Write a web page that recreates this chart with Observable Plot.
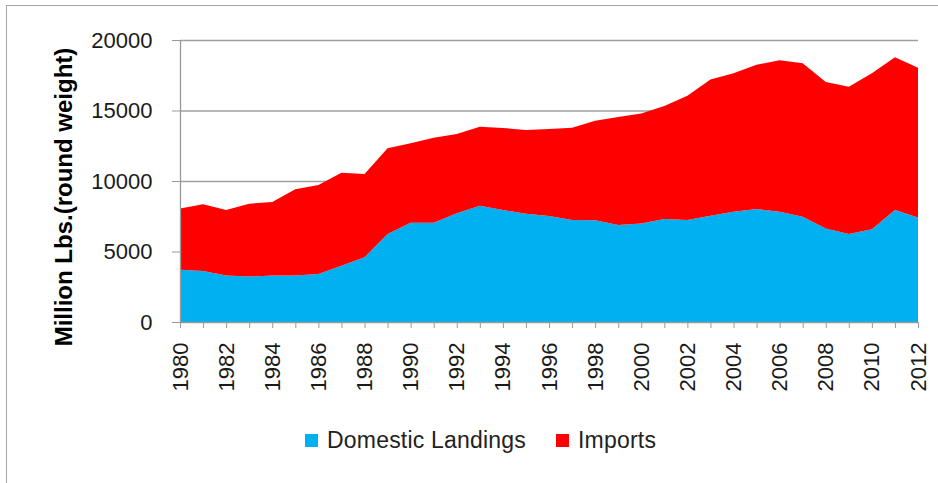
<!DOCTYPE html>
<html><head><meta charset="utf-8">
<script src="https://cdn.jsdelivr.net/npm/d3@7"></script>
<script src="https://cdn.jsdelivr.net/npm/@observablehq/plot@0.6"></script>
<style>
body{margin:0;background:#fff;font-family:"Liberation Sans",Arial,sans-serif;}
#wrap{position:relative;width:938px;height:483px;overflow:hidden;background:#fff;}
#frame{position:absolute;left:6px;top:5px;width:1000px;height:1000px;border-left:1.5px solid #a6a6a6;border-top:1.5px solid #a6a6a6;}
#chart{position:absolute;left:0;top:0;}
#ytitle{position:absolute;left:64px;top:197px;transform:translate(-50%,-50%) rotate(-90deg);font-weight:bold;font-size:24px;color:#000;white-space:nowrap;}
#legend{position:absolute;left:305px;top:427px;display:flex;align-items:center;font-size:23px;letter-spacing:0.2px;color:#222;white-space:nowrap;}
.sw{display:inline-block;width:13px;height:13px;margin-right:9px;}
.item{display:flex;align-items:center;}
</style></head>
<body>
<div id="wrap"><div id="frame"></div><div id="chart"></div><div id="ytitle"></div><div id="legend"></div></div>
<script>
const years = [1980,1981,1982,1983,1984,1985,1986,1987,1988,1989,1990,1991,1992,1993,1994,1995,1996,1997,1998,1999,2000,2001,2002,2003,2004,2005,2006,2007,2008,2009,2010,2011,2012];
const seriesNames = ["Domestic Landings","Imports"];
const seriesColors = ["#00b0f0","#ff0000"];
const domestic = [3700,3620,3290,3220,3290,3290,3400,3990,4590,6240,7040,7040,7710,8250,7940,7680,7520,7230,7210,6880,6980,7300,7230,7540,7820,8010,7820,7470,6640,6240,6570,7940,7420];
const imports = [4350,4730,4650,5170,5220,6120,6320,6600,5910,6080,5630,6030,5620,5600,5820,5940,6170,6550,7070,7660,7810,8020,8820,9660,9820,10240,10740,10880,10380,10450,11070,10830,10620];
const yTicks = [0,5000,10000,15000,20000];
const xLabelYears = [1980,1982,1984,1986,1988,1990,1992,1994,1996,1998,2000,2002,2004,2006,2008,2010,2012];
const yTitle = "Million Lbs.(round weight)";

const table = [];
years.forEach((y,i)=>{
  table.push({year:y, series:seriesNames[0], value:domestic[i]});
  table.push({year:y, series:seriesNames[1], value:imports[i]});
});

const chart = Plot.plot({
  width:938, height:420,
  marginLeft:180, marginRight:20, marginTop:40, marginBottom:98,
  x:{domain:[years[0], years[years.length-1]]},
  y:{domain:[yTicks[0], yTicks[yTicks.length-1]]},
  color:{domain:seriesNames, range:seriesColors},
  style:{fontFamily:"'Liberation Sans', Arial, sans-serif", fontSize:"22px", color:"#1a1a1a", background:"transparent"},
  marks:[
    Plot.gridY(yTicks.slice(1), {stroke:"#a0a0a0", strokeOpacity:1, strokeWidth:1.3}),
    Plot.areaY(table, {x:"year", y:"value", fill:"series", order:seriesNames}),
    Plot.ruleX([years[0]], {stroke:"#999", strokeWidth:1.3}),
    Plot.ruleY([yTicks[0]], {stroke:"#999", strokeWidth:1.3}),
    Plot.axisY(yTicks, {tickSize:8, tickPadding:20, tickFormat:d=>String(d), label:null, stroke:"#999", fontSize:22}),
    Plot.axisX(years, {tickSize:6, tickFormat:()=>"", label:null, stroke:"#999"}),
    Plot.axisX(xLabelYears, {tickSize:0, tickPadding:20, tickRotate:-90, tickFormat:d=>String(d), label:null, fontSize:22})
  ]
});
document.getElementById("chart").appendChild(chart);
document.getElementById("ytitle").textContent = yTitle;

const legend = document.getElementById("legend");
seriesNames.forEach((name,i)=>{
  const it = document.createElement("span");
  it.className = "item";
  it.style.marginRight = i===0 ? "30px" : "0";
  const sw = document.createElement("span");
  sw.className = "sw";
  sw.style.background = seriesColors[i];
  it.appendChild(sw);
  it.appendChild(document.createTextNode(name));
  legend.appendChild(it);
});
</script>
</body></html>
